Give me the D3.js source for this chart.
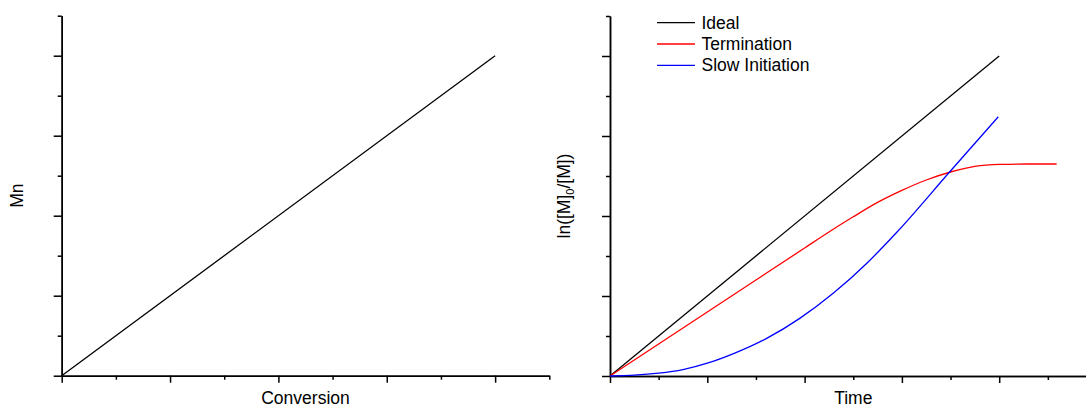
<!DOCTYPE html>
<html>
<head>
<meta charset="utf-8">
<script src="https://cdn.jsdelivr.net/npm/d3@7/dist/d3.min.js"></script>
<style>
  body { margin: 0; background: #fff; }
  svg { display: block; font-family: "Liberation Sans", Arial, sans-serif; }
  .axis path, .axis line { stroke: #000; stroke-width: 1.5; }
</style>
</head>
<body>
<div id="chart"></div>
<script>
// left panel: Mn vs conversion
const conversion = [0, 4];
const mnIdeal = [0, 4];

// right panel: ln([M]0/[M]) vs time
const timeIdeal = [0, 4];
const lnIdeal = [0, 4];
const timeTerm = [0, 1, 2, 2.25, 2.5, 2.75, 3, 3.25, 3.5, 3.75, 4, 4.3, 4.59];
const lnTerm = [0, 0.8, 1.6, 1.8, 1.99, 2.17, 2.32, 2.45, 2.55, 2.62, 2.645, 2.65, 2.65];
const timeSlow = [0, 0.25, 0.5, 0.75, 1, 1.27, 1.61, 1.95, 2.3, 2.64, 2.95, 3.49, 3.99];
const lnSlow = [0, 0.01, 0.035, 0.08, 0.16, 0.28, 0.47, 0.72, 1.04, 1.41, 1.8, 2.55, 3.24];

const legendNames = ["Ideal", "Termination", "Slow Initiation"];
const colors = ["#000000", "#ff0000", "#0000ff"];

const W = 1086, H = 408;
const FS = 17.5;
const svg = d3.select("#chart").append("svg")
    .attr("width", W)
    .attr("height", H);

const zip = (xs, ys) => xs.map((x, i) => [x, ys[i]]);

function drawPanel(x, y, series, xlabel) {
    const g = svg.append("g");
    const majX = d3.range(0, x.domain()[1] + 0.01, 1);
    const minX = d3.range(0.5, x.domain()[1] + 0.01, 1);
    const majY = d3.range(0, y.domain()[1] + 0.01, 1);
    const minY = d3.range(0.5, y.domain()[1] + 0.01, 1);
    const y0 = y(0), x0 = x(0);

    g.append("g").attr("class", "axis")
        .attr("transform", `translate(0,${y0})`)
        .call(d3.axisBottom(x).tickValues(majX).tickSize(7).tickSizeOuter(0).tickFormat(""));
    g.append("g").attr("class", "axis")
        .attr("transform", `translate(0,${y0})`)
        .call(d3.axisBottom(x).tickValues(minX).tickSize(4).tickSizeOuter(0).tickFormat(""));
    g.append("g").attr("class", "axis")
        .attr("transform", `translate(${x0},0)`)
        .call(d3.axisLeft(y).tickValues(majY).tickSize(8).tickSizeOuter(0).tickFormat(""));
    g.append("g").attr("class", "axis")
        .attr("transform", `translate(${x0},0)`)
        .call(d3.axisLeft(y).tickValues(minY).tickSize(4).tickSizeOuter(0).tickFormat(""));

    const line = d3.line().x(d => x(d[0])).y(d => y(d[1])).curve(d3.curveMonotoneX);
    series.forEach(s => {
        g.append("path")
            .datum(s.pts)
            .attr("fill", "none")
            .attr("stroke", s.color)
            .attr("stroke-width", 1.3)
            .attr("d", line);
    });

    g.append("text")
        .attr("x", (x.range()[0] + x.range()[1]) / 2)
        .attr("y", 404)
        .attr("text-anchor", "middle")
        .attr("font-size", FS)
        .text(xlabel);
    return g;
}

// left
const xL = d3.scaleLinear().domain([0, 4.5]).range([61.7, 549.3]);
const yL = d3.scaleLinear().domain([0, 4.5]).range([375.7, 15.7]);
drawPanel(xL, yL, [{pts: zip(conversion, mnIdeal), color: colors[0]}], "Conversion");
svg.append("text")
    .attr("transform", `translate(23,${(yL(0) + yL(4.5)) / 2}) rotate(-90)`)
    .attr("text-anchor", "middle")
    .attr("font-size", FS)
    .text("Mn");

// right (x axis runs past the picture edge)
const xR = d3.scaleLinear().domain([0, 5]).range([610, 1096.5]);
const yR = d3.scaleLinear().domain([0, 4.5]).range([376, 16]);
drawPanel(xR, yR, [
    {pts: zip(timeIdeal, lnIdeal), color: colors[0]},
    {pts: zip(timeTerm, lnTerm), color: colors[1]},
    {pts: zip(timeSlow, lnSlow), color: colors[2]}
], "Time");

const ylab = svg.append("text")
    .attr("transform", `translate(570,${(yR(0) + yR(4.5)) / 2}) rotate(-90)`)
    .attr("text-anchor", "middle")
    .attr("font-size", FS);
ylab.append("tspan").text("ln([M]");
ylab.append("tspan").attr("font-size", 11).attr("dy", 4).text("0");
ylab.append("tspan").attr("dy", -4).text("/[M])");

// legend
const leg = svg.append("g");
legendNames.forEach((name, i) => {
    const ly = 22.7 + i * 21.3;
    leg.append("line")
        .attr("x1", 657).attr("x2", 695)
        .attr("y1", ly).attr("y2", ly)
        .attr("stroke", colors[i])
        .attr("stroke-width", 1.3);
    leg.append("text")
        .attr("x", 701.5)
        .attr("y", ly + 6)
        .attr("font-size", FS)
        .text(name);
});
</script>
</body>
</html>
